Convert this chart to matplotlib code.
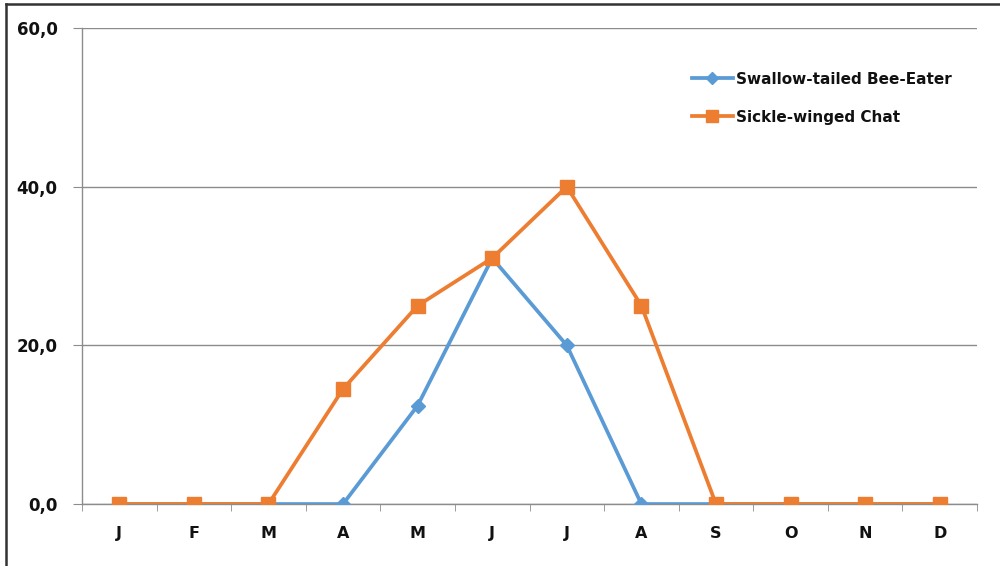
import matplotlib
matplotlib.use("Agg")
import matplotlib.pyplot as plt
from matplotlib.lines import Line2D
from matplotlib.ticker import FixedLocator, FuncFormatter

months = ["J", "F", "M", "A", "M", "J", "J", "A", "S", "O", "N", "D"]
bee_eater = [0, 0, 0, 0, 12.4, 31, 20, 0, 0, 0, 0, 0]
chat = [0, 0, 0, 14.5, 25, 31, 40, 25, 0, 0, 0, 0]
series_names = ["Swallow-tailed Bee-Eater", "Sickle-winged Chat"]
yticks = [0, 20, 40, 60]

blue = "#5B9BD5"
orange = "#ED7D31"
grey = "#8C8C8C"

fig = plt.figure(figsize=(10, 5.66), dpi=100)
ax = fig.add_axes([0.082, 0.1095, 0.895, 0.841])

x = list(range(len(months)))
ax.plot(x, bee_eater, color=blue, lw=2.7, marker="D", markersize=7,
        label=series_names[0], zorder=3, solid_joinstyle="round")
ax.plot(x, chat, color=orange, lw=2.7, marker="s", markersize=10,
        label=series_names[1], zorder=4, solid_joinstyle="round")

ax.set_xlim(-0.5, len(months) - 0.5)
ax.set_ylim(0, 60)
ax.set_yticks(yticks)
ax.yaxis.set_major_formatter(FuncFormatter(lambda v, p: f"{v:.1f}".replace(".", ",")))
ax.set_xticks(x)
ax.set_xticklabels(months)
ax.xaxis.set_minor_locator(FixedLocator([i - 0.5 for i in range(len(months) + 1)]))

ax.grid(axis="y", color=grey, lw=1.0)
ax.set_axisbelow(True)
for s in ["top", "right"]:
    ax.spines[s].set_visible(False)
for s in ["left", "bottom"]:
    ax.spines[s].set_color(grey)
    ax.spines[s].set_linewidth(1.0)

ax.tick_params(axis="y", direction="out", length=6.5, color=grey, pad=11,
               labelsize=12, labelcolor="#111111")
ax.tick_params(axis="x", which="major", length=0, pad=16,
               labelsize=11.5, labelcolor="#111111")
ax.tick_params(axis="x", which="minor", direction="out", length=5, color=grey)
for lab in ax.get_yticklabels() + ax.get_xticklabels():
    lab.set_fontweight("bold")

leg = ax.legend(loc="upper left", bbox_to_anchor=(0.666, 0.937), frameon=False,
                fontsize=11, handlelength=2.7, labelspacing=1.5,
                handletextpad=0.2, markerscale=0.85)
for t in leg.get_texts():
    t.set_fontweight("semibold")
    t.set_color("#111111")

# figure border (top and left)
fig.add_artist(Line2D([0.006, 1.0], [0.993, 0.993], transform=fig.transFigure,
                      color="#333333", lw=1.8))
fig.add_artist(Line2D([0.006, 0.006], [0.0, 0.993], transform=fig.transFigure,
                      color="#333333", lw=1.8))

fig.savefig("out.png", dpi=100)
